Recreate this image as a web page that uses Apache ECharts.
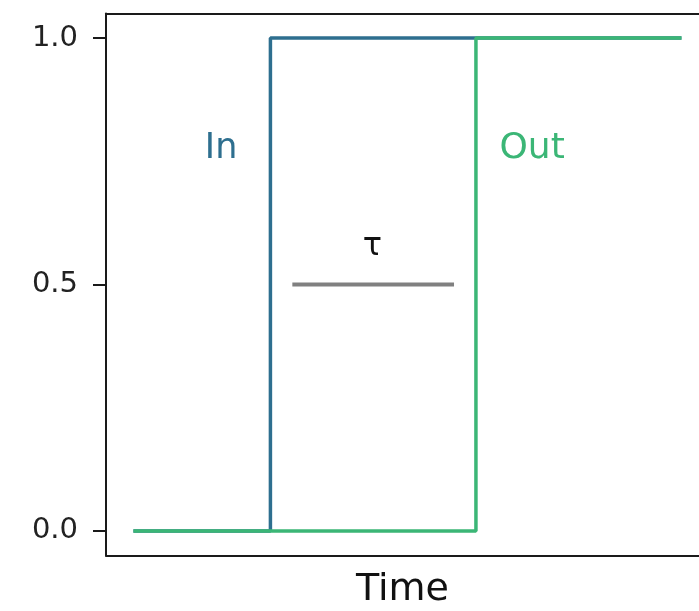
<!DOCTYPE html>
<html>
<head>
<meta charset="utf-8">
<style>
  html, body { margin: 0; padding: 0; background: #fff; }
  #chart { width: 699px; height: 611px; }
</style>
<script src="https://cdn.jsdelivr.net/npm/echarts@6/dist/echarts.min.js"></script>
</head>
<body>
<div id="chart"></div>
<script>
// Step response: input switches on at t=1, output follows at t=2.5
const inTime = [0, 1, 1, 4];
const inValue = [0, 0, 1, 1];
const outTime = [0, 2.5, 2.5, 4];
const outValue = [0, 0, 1, 1];

// Delay marker between the two steps
const tauTime = [1.16, 2.34];
const tauValue = [0.5, 0.5];

// Text annotations: [time, value, text]
const inLabel = [0.64, 0.775, 'In'];
const outLabel = [2.91, 0.775, 'Out'];
const tauLabel = [1.745, 0.576, 'τ'];

const yTicks = [0, 0.5, 1];

const BLUE = '#2e6f8f';
const GREEN = '#3bb676';
const INK = '#1a1a1a';
const FONT = 'DejaVu Sans';

const zip = (xs, ys) => xs.map((x, i) => [x, ys[i]]);

const textSeries = (pt, color, size) => ({
  type: 'scatter',
  symbolSize: 0,
  silent: true,
  itemStyle: { opacity: 1 },
  data: [[pt[0], pt[1]]],
  label: {
    show: true,
    position: 'inside',
    formatter: pt[2],
    color: color,
    opacity: 1,
    fontFamily: FONT,
    fontSize: size
  },
  z: 5
});

const chart = echarts.init(document.getElementById('chart'));
chart.setOption({
  animation: false,
  backgroundColor: '#fff',
  grid: {
    left: 106,
    top: 13.4,
    right: 0,
    height: 542.2,
    outerBoundsMode: 'none',
    containLabel: false
  },
  xAxis: [
    {
      type: 'value',
      min: -0.2,
      max: 4.128,
      name: 'Time',
      nameLocation: 'middle',
      nameGap: 16,
      nameTextStyle: { fontFamily: FONT, fontSize: 38, color: '#111' },
      axisLine: { show: true, onZero: false, lineStyle: { color: INK, width: 2 } },
      axisTick: { show: false },
      axisLabel: { show: false },
      splitLine: { show: false }
    },
    {
      type: 'value',
      position: 'top',
      min: -0.2,
      max: 4.128,
      axisLine: { show: true, onZero: false, lineStyle: { color: INK, width: 2 } },
      axisTick: { show: false },
      axisLabel: { show: false },
      splitLine: { show: false }
    }
  ],
  yAxis: {
    type: 'value',
    min: -0.05,
    max: 1.05,
    axisLine: { show: true, onZero: false, lineStyle: { color: INK, width: 2 } },
    axisTick: {
      show: true,
      length: 13,
      customValues: yTicks,
      lineStyle: { color: INK, width: 2 }
    },
    axisLabel: {
      show: true,
      customValues: yTicks,
      margin: 28,
      formatter: v => v.toFixed(1),
      fontFamily: FONT,
      fontSize: 29,
      color: '#222'
    },
    splitLine: { show: false }
  },
  series: [
    {
      name: 'In',
      type: 'line',
      data: zip(inTime, inValue),
      showSymbol: false,
      lineStyle: { color: BLUE, width: 3.5 },
      z: 2
    },
    {
      name: 'Out',
      type: 'line',
      data: zip(outTime, outValue),
      showSymbol: false,
      lineStyle: { color: GREEN, width: 3.5 },
      z: 3
    },
    {
      name: 'tau',
      type: 'line',
      data: zip(tauTime, tauValue),
      showSymbol: false,
      lineStyle: { color: '#808080', width: 4 },
      z: 3
    },
    textSeries(inLabel, BLUE, 35),
    textSeries(outLabel, GREEN, 36),
    textSeries(tauLabel, '#111', 32)
  ]
});
</script>
</body>
</html>
